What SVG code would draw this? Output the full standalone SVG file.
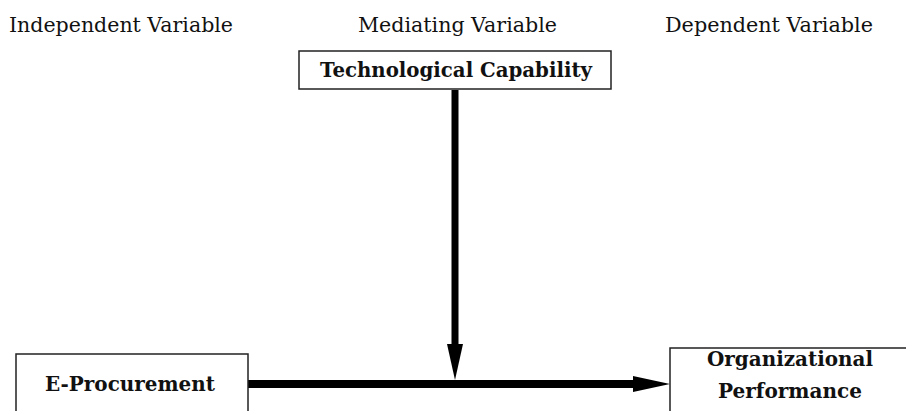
<svg xmlns="http://www.w3.org/2000/svg" width="906" height="411" viewBox="0 0 906 411">
<style>
.hdr{font-family:'DejaVu Serif','Liberation Serif','Times New Roman',serif;font-size:20px;fill:#111}
.lbl{font-family:'DejaVu Serif','Liberation Serif','Times New Roman',serif;font-size:20px;font-weight:bold;fill:#111}
.box{fill:#fff;stroke:#222;stroke-width:1.5}
.conn{fill:#000}
</style>
<rect width="906" height="411" fill="#fff"/>
<g id="headers">
<text class="hdr" x="9" y="32" textLength="224" lengthAdjust="spacingAndGlyphs">Independent Variable</text>
<text class="hdr" x="358" y="32" textLength="199" lengthAdjust="spacingAndGlyphs">Mediating Variable</text>
<text class="hdr" x="665" y="32" textLength="208" lengthAdjust="spacingAndGlyphs">Dependent Variable</text>
</g>
<g id="connectors">
<rect class="conn" x="451.5" y="90" width="7" height="256"/>
<polygon class="conn" points="447,344 463,344 455,380"/>
<rect class="conn" x="248" y="380" width="388" height="8"/>
<polygon class="conn" points="633,376 670,384 633,392"/>
</g>
<g id="node-tech">
<rect class="box" x="299" y="51" width="312" height="38"/>
<text class="lbl" x="320" y="77" textLength="272" lengthAdjust="spacingAndGlyphs">Technological Capability</text>
</g>
<g id="node-eproc">
<rect class="box" x="16" y="354" width="232" height="70"/>
<text class="lbl" x="45" y="391" textLength="170" lengthAdjust="spacingAndGlyphs">E-Procurement</text>
</g>
<g id="node-orgperf">
<rect class="box" x="670" y="348" width="250" height="80"/>
<text class="lbl" x="707" y="366" textLength="166" lengthAdjust="spacingAndGlyphs">Organizational</text>
<text class="lbl" x="718" y="398" textLength="144" lengthAdjust="spacingAndGlyphs">Performance</text>
</g>
</svg>
